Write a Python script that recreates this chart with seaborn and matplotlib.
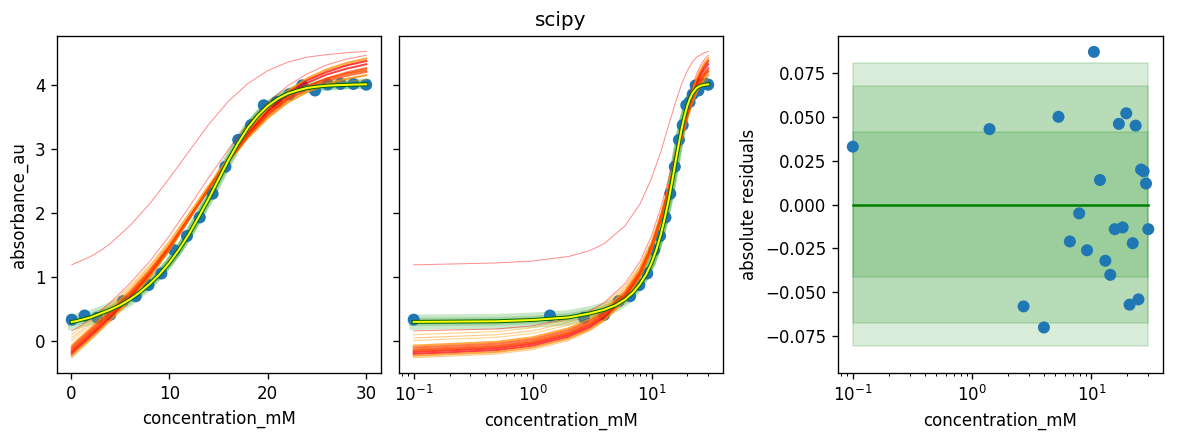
"""
Sigmoid fit of absorbance vs concentration: linear / log views and residuals.
"""
import matplotlib
matplotlib.use("Agg")
import matplotlib.pyplot as plt
import seaborn as sns

# --- measured points ---
conc_mM = [0.1, 1.4, 2.7, 4.0, 5.3, 6.6, 7.9, 9.2, 10.5, 11.8, 13.1, 14.4,
           15.7, 17.0, 18.3, 19.6, 20.9, 22.2, 23.5, 24.8, 26.1, 27.4, 28.7, 30.0]
absorbance = [0.335, 0.40, 0.365, 0.41, 0.625, 0.70, 0.875, 1.055, 1.42, 1.64, 1.93, 2.30,
              2.72, 3.14, 3.37, 3.68, 3.73, 3.85, 3.99, 3.91, 4.005, 4.013, 4.012, 4.0]
residuals = [0.033, 0.043, -0.058, -0.070, 0.050, -0.021, -0.005, -0.026, 0.087, 0.014, -0.032, -0.040,
             -0.014, 0.046, -0.013, 0.052, -0.057, -0.022, 0.045, -0.054, 0.020, 0.019, 0.012, -0.014]
band_halfwidths = [0.0806, 0.0677, 0.0412]

# --- best fit and its close neighbours, read on a fine grid ---
fit_x = [0.1, 0.5, 1, 2, 3, 4, 5, 6, 7, 8, 9, 10, 11, 12, 13, 14, 15, 16,
         17, 18, 19, 20, 21, 22, 23, 24, 25, 26, 27, 28, 29, 30]
fit_curve = [0.30, 0.31, 0.33, 0.37, 0.43, 0.49, 0.56, 0.65, 0.76, 0.89, 1.04, 1.22, 1.43, 1.67, 1.94, 2.22,
             2.52, 2.82, 3.09, 3.33, 3.52, 3.67, 3.78, 3.86, 3.91, 3.95, 3.97, 3.985, 3.993, 3.998, 4.003, 4.006]
green_a = [0.24, 0.25, 0.27, 0.31, 0.37, 0.44, 0.52, 0.61, 0.73, 0.87, 1.03, 1.22, 1.44, 1.69, 1.97, 2.26,
           2.56, 2.85, 3.12, 3.35, 3.53, 3.67, 3.77, 3.84, 3.89, 3.93, 3.95, 3.97, 3.98, 3.99, 4.00, 4.00]
green_b = [0.35, 0.36, 0.38, 0.42, 0.48, 0.54, 0.61, 0.69, 0.80, 0.92, 1.06, 1.23, 1.43, 1.66, 1.92, 2.19,
           2.48, 2.78, 3.06, 3.31, 3.51, 3.67, 3.79, 3.88, 3.94, 3.98, 4.00, 4.01, 4.02, 4.02, 4.03, 4.03]

# --- broad sample curves, read on a coarse grid ---
x_grid = [0.1, 0.5, 1, 2, 3, 4, 6, 8, 10, 12, 14, 16, 18, 20, 22, 24, 26, 28, 30]

bundle_1 = [-0.20, -0.14, -0.07, 0.07, 0.21, 0.36, 0.67, 1.02, 1.43, 1.90, 2.38, 2.84, 3.26, 3.60, 3.87, 4.07, 4.20, 4.30, 4.37]
bundle_2 = [-0.13, -0.07, 0.00, 0.14, 0.28, 0.42, 0.72, 1.06, 1.46, 1.92, 2.38, 2.82, 3.22, 3.55, 3.80, 3.98, 4.10, 4.19, 4.26]
bundle_3 = [-0.07, -0.01, 0.06, 0.20, 0.34, 0.48, 0.78, 1.11, 1.50, 1.94, 2.38, 2.80, 3.17, 3.48, 3.72, 3.89, 4.01, 4.09, 4.15]
bundle_4 = [-0.17, -0.11, -0.04, 0.10, 0.24, 0.39, 0.70, 1.04, 1.45, 1.91, 2.38, 2.83, 3.24, 3.58, 3.84, 4.03, 4.16, 4.25, 4.32]
bundle_5 = [-0.10, -0.04, 0.03, 0.17, 0.31, 0.45, 0.75, 1.09, 1.48, 1.93, 2.38, 2.81, 3.20, 3.52, 3.76, 3.93, 4.06, 4.14, 4.20]
bundle_6 = [-0.23, -0.17, -0.10, 0.04, 0.18, 0.33, 0.64, 1.00, 1.42, 1.90, 2.39, 2.86, 3.28, 3.63, 3.90, 4.10, 4.24, 4.34, 4.41]
bundle_7 = [-0.15, -0.09, -0.02, 0.12, 0.26, 0.40, 0.71, 1.05, 1.46, 1.92, 2.38, 2.82, 3.21, 3.54, 3.79, 3.97, 4.09, 4.17, 4.23]

faint_1 = [0.10, 0.15, 0.21, 0.33, 0.45, 0.58, 0.86, 1.18, 1.56, 1.99, 2.42, 2.83, 3.19, 3.49, 3.72, 3.88, 3.99, 4.05, 4.08]
faint_2 = [0.05, 0.10, 0.16, 0.29, 0.41, 0.54, 0.83, 1.16, 1.55, 1.99, 2.43, 2.85, 3.22, 3.53, 3.76, 3.92, 4.03, 4.10, 4.14]
faint_3 = [0.01, 0.06, 0.12, 0.25, 0.38, 0.51, 0.80, 1.14, 1.54, 1.99, 2.44, 2.87, 3.25, 3.57, 3.81, 3.98, 4.10, 4.17, 4.22]
faint_4 = [-0.26, -0.20, -0.13, 0.01, 0.16, 0.31, 0.62, 0.98, 1.41, 1.89, 2.38, 2.85, 3.27, 3.62, 3.89, 4.08, 4.22, 4.32, 4.39]

outlier_1 = [1.19, 1.22, 1.25, 1.32, 1.41, 1.52, 1.80, 2.14, 2.54, 2.96, 3.38, 3.74, 4.02, 4.22, 4.35, 4.43, 4.47, 4.50, 4.52]
outlier_2 = [0.16, 0.19, 0.24, 0.35, 0.47, 0.60, 0.90, 1.24, 1.64, 2.09, 2.55, 2.99, 3.39, 3.72, 3.98, 4.17, 4.31, 4.40, 4.46]

DPI = 120
fig = plt.figure(figsize=(1185 / DPI, 440 / DPI), dpi=DPI)
ax1 = fig.add_axes([0.0481, 0.152, 0.2734, 0.766])
ax2 = fig.add_axes([0.3367, 0.152, 0.2734, 0.766], sharey=ax1)
ax3 = fig.add_axes([0.7072, 0.152, 0.2743, 0.766])


def draw_fits(ax):
    for g in (green_a, fit_curve, green_b):
        sns.lineplot(x=fit_x, y=g, color="tab:green", lw=5, alpha=0.25, ax=ax, zorder=2)
    sns.scatterplot(x=conc_mM, y=absorbance, s=52, color="tab:blue", edgecolor="none", ax=ax, zorder=3)
    faint = [(faint_1, "orange"), (faint_2, "darkorange"), (faint_3, "orange"), (faint_4, "darkorange")]
    for f, c in faint:
        sns.lineplot(x=x_grid, y=f, color=c, lw=0.7, alpha=0.45, ax=ax, zorder=4)
    for o in (outlier_1, outlier_2):
        sns.lineplot(x=x_grid, y=o, color="red", lw=0.6, alpha=0.45, ax=ax, zorder=4)
    bundle = [(bundle_1, "red"), (bundle_2, "orangered"), (bundle_3, "darkorange"),
              (bundle_4, "red"), (bundle_5, "orangered"), (bundle_6, "darkorange"),
              (bundle_7, "orangered")]
    for b, c in bundle:
        sns.lineplot(x=x_grid, y=b, color=c, lw=1.2, alpha=0.75, ax=ax, zorder=5)
    sns.lineplot(x=fit_x, y=fit_curve, color="darkgreen", lw=2.4, ax=ax, zorder=6)
    sns.lineplot(x=fit_x, y=fit_curve, color="yellow", lw=1.2, ax=ax, zorder=7)
    ax.set_xlabel("concentration_mM")


# --- left: linear concentration ---
draw_fits(ax1)
ax1.set_ylabel("absorbance_au")
ax1.set_xlim(-1.4, 31.5)

# --- middle: log concentration ---
draw_fits(ax2)
ax2.set_xscale("log")
ax2.set_title("scipy")
ax2.tick_params(labelleft=False)
ax2.set_ylabel("")

# --- right: residuals ---
band_x = [conc_mM[0], conc_mM[-1]]
for hw in band_halfwidths:
    ax3.fill_between(band_x, [-hw, -hw], [hw, hw], color="green", alpha=0.15)
sns.lineplot(x=band_x, y=[0, 0], color="green", lw=1.5, ax=ax3)
sns.scatterplot(x=conc_mM, y=residuals, s=52, color="tab:blue", edgecolor="none", ax=ax3, zorder=3)
ax3.set_xscale("log")
ax3.set_ylim(-0.096, 0.096)
ax3.set_xlabel("concentration_mM")
ax3.set_ylabel("absolute residuals")

fig.savefig("out.png", dpi=DPI)
